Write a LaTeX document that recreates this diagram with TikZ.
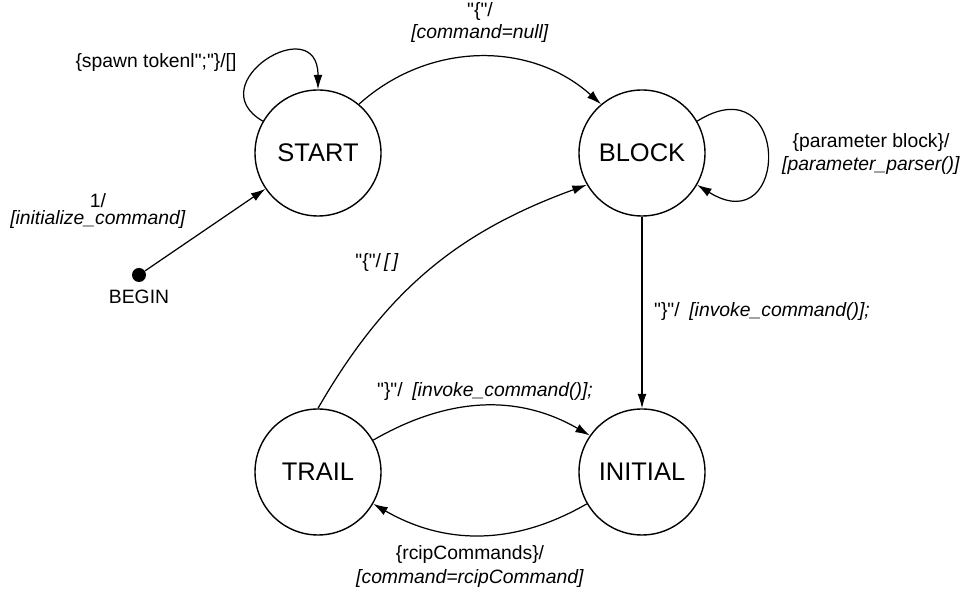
\documentclass[tikz,border=0pt]{standalone}
\usepackage{fontspec}
\setmainfont{Liberation Sans}[Ligatures=TeXOff]
\usetikzlibrary{arrows.meta}
\tikzset{
    state/.style={draw, circle, line width=0.8pt, minimum size=2.52cm, inner sep=0pt, font=\fontsize{14.5}{17}\selectfont},
    trans/.style={line width=0.7pt, -{Latex[length=2.9mm, width=1.8mm]}},
    lbl/.style={align=center, inner sep=1pt, font=\fontsize{11}{13.5}\selectfont},
}

\begin{document}
\begin{tikzpicture}
            \useasboundingbox (0.00, 0.00) rectangle (19.28, 11.84);
            \node[state]                                              (start)   at ( 6.36,  8.78) {START};
            \node[state]                                              (block)   at (12.84,  8.78) {BLOCK};
            \node[state]                                              (trail)   at ( 6.36,  2.40) {TRAIL};
            \node[state]                                              (initial) at (12.84,  2.40) {INITIAL};
            \node[circle, fill=black, minimum size=0.28cm, inner sep=0pt] (begin) at ( 2.78,  6.34) {};
            \node[lbl]                                                (beginlbl) at ( 2.78,  5.90) {BEGIN};

            \draw[trans] (begin)       -- (start);
            \draw[trans] (start.150)   .. controls +(150:1.5) and +(90:1.6)   .. (start.north);
            \draw[trans] (start.50)    to[out=42,   in=138]                      (block.130);
            \draw[trans] (block.30)    .. controls +(32:2.2)  and +(-32:2.2)  .. (block.-30);
            \draw[trans] (trail.north) to[out=60,   in=200]                      (block.210);
            \draw[trans] (block)       -- (initial);
            \draw[trans] (trail.30)    to[out=30,   in=150]                      (initial.145);
            \draw[trans] (initial.210) to[out=-150, in=-30]                      (trail.-30);

            \node[lbl] (spawnlbl)  at ( 3.12, 10.58) {\{spawn tokenl";"\}/[]};
            \node[lbl] (openlbl)   at ( 9.60, 11.39) {"\{"/\\[-1.5pt]\textit{[command=null]}};
            \node[lbl] (initlbl)   at ( 1.96,  7.62) {1/\\[-4pt]\textit{[initialize\_command]}};
            \node[lbl] (paramlbl)  at (17.42,  8.76) {\{parameter block\}/\\\textit{[parameter\_parser()]}};
            \node[lbl] (retrylbl)  at ( 7.54,  6.58) {"\{"/\,\textit{[\,]}};
            \node[lbl] (closelbl)  at (15.24,  5.60) {"\}"/\enspace\textit{[invoke\_command()];}};
            \node[lbl] (trailcls)  at ( 9.70,  4.00) {"\}"/\enspace\textit{[invoke\_command()];}};
            \node[lbl] (rciplbl)   at ( 9.40,  0.51) {\{rcipCommands\}/\\\textit{[command=rcipCommand]}};
        \end{tikzpicture}
\end{document}
